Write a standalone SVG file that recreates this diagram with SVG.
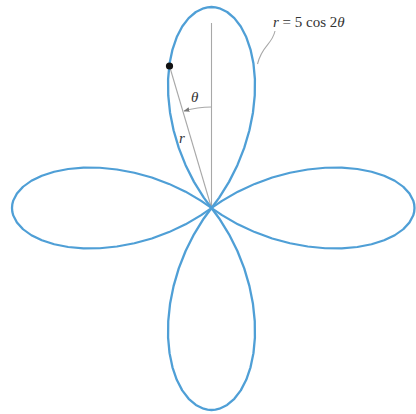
<svg xmlns="http://www.w3.org/2000/svg" width="416" height="414" viewBox="0 0 416 414">
<style>
.curve{fill:none;stroke:#4f9fd6;stroke-width:2.3;stroke-linejoin:round}
.guide{fill:none;stroke:#a8a8a8;stroke-width:1.1}
.lbl{font-family:"Liberation Serif","DejaVu Serif",serif;font-size:15px;fill:#333}
.it{font-style:italic}
</style>
<defs>
<polygon id="petal" points="0,0 10.35,-7.72 26.00,-17.52 42.59,-25.90 59.81,-32.74 77.34,-37.93 94.83,-41.45 111.95,-43.26 128.34,-43.41 143.69,-41.96 157.70,-39.02 170.06,-34.74 180.54,-29.28 188.92,-22.84 195.03,-15.65 198.75,-7.96 199.69,-4.00 200,0 199.69,4.00 198.75,7.96 195.03,15.65 188.92,22.84 180.54,29.28 170.06,34.74 157.70,39.02 143.69,41.96 128.34,43.41 111.95,43.26 94.83,41.45 77.34,37.93 59.81,32.74 42.59,25.90 26.00,17.52 10.35,7.72"/>
<marker id="arr" viewBox="0 0 10 10" refX="9" refY="5" markerWidth="6" markerHeight="6" orient="auto" markerUnits="userSpaceOnUse">
<path d="M0,1 L10,5 L0,9 Z" fill="#777"/>
</marker>
</defs>
<g id="connectors">
<line class="guide" x1="211.5" y1="208" x2="211.5" y2="23"/>
<line class="guide" x1="211.5" y1="208" x2="169.5" y2="66"/>
<path class="guide" d="M211.5,107 A101,101 0 0 0 184,111" marker-end="url(#arr)"/>
<path class="guide" d="M275,31 C272,45 262,45 257.5,64" stroke="#888"/>
</g>
<g id="rose">
<use href="#petal" class="curve" transform="translate(211.5,208) rotate(-90) scale(1.005,1)"/>
<use href="#petal" class="curve" transform="translate(211.5,208) rotate(90) scale(1.01,1)"/>
<use href="#petal" class="curve" transform="translate(211.5,208) rotate(180) scale(0.9975,0.93)"/>
<use href="#petal" class="curve" transform="translate(211.5,208) scale(1.015,0.93)"/>
</g>
<g id="point">
<circle cx="169.5" cy="66" r="3.6" fill="#111"/>
</g>
<g id="labels">
<text class="lbl it" x="191" y="102">θ</text>
<text class="lbl it" x="179" y="143">r</text>
<text class="lbl" x="273" y="27"><tspan class="it">r</tspan> = 5 cos 2<tspan class="it">θ</tspan></text>
</g>
</svg>
